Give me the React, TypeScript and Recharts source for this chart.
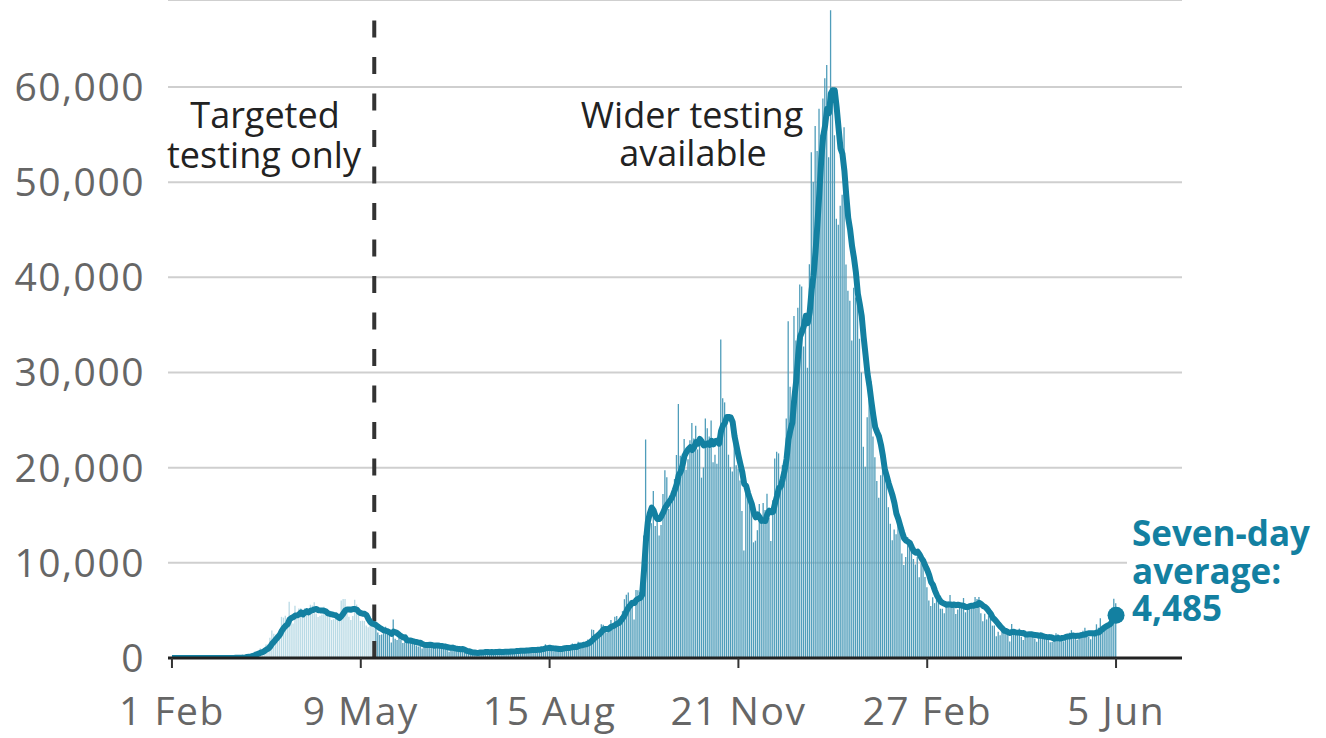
import { ComposedChart, Bar, Line, XAxis, YAxis, CartesianGrid, ReferenceLine, Cell } from 'recharts'

// Daily reported cases, 1 Feb 2020 - 5 Jun 2021
const feb20 = [0, 0, 0, 0, 0, 1, 0, 0, 0, 4, 1, 0, 1, 0, 0, 0, 0, 0, 0, 0, 0, 0, 0, 4, 0, 2, 5, 3, 3]
const mar20 = [12, 4, 11, 34, 29, 48, 45, 69, 43, 208, 342, 251, 152, 407, 676, 643, 714, 1035, 665, 967, 1427, 1452, 2129, 2885, 2546, 2433, 2619, 3009, 4324, 4244, 4450]
const apr20 = [3735, 5903, 3802, 3634, 5491, 4344, 5195, 5233, 4342, 5252, 4603, 4617, 5599, 5525, 5850, 4676, 4301, 4451, 4583, 5386, 4913, 4463, 4309, 3996, 4076, 4350, 4200, 3950, 6032, 6201]
const may20 = [6201, 4806, 4339, 3985, 4406, 6111, 5614, 4649, 3896, 3923, 3877, 3403, 3242, 3446, 3560, 3451, 3142, 2684, 2412, 2472, 2615, 3287, 2959, 2405, 1625, 4043, 2013, 1887, 2095, 1936, 1570]
const jun20 = [1653, 1871, 1871, 1805, 1650, 1557, 1326, 1205, 1741, 1003, 1266, 1541, 1425, 1514, 1056, 1279, 1115, 1218, 1346, 1295, 1221, 958, 874, 653, 1118, 1380, 890, 901, 815, 689]
const jul20 = [829, 576, 544, 624, 516, 352, 581, 630, 512, 820, 650, 650, 530, 598, 538, 642, 687, 827, 580, 725, 445, 560, 769, 768, 767, 747, 685, 581, 763, 846, 880]
const aug20 = [744, 743, 938, 670, 892, 950, 871, 758, 1062, 816, 1148, 1009, 1441, 1040, 1012, 726, 713, 1089, 812, 1182, 1033, 1288, 1041, 853, 1184, 1048, 1522, 1276, 1108, 1715, 1406]
const sep20 = [1295, 1508, 1735, 1940, 1813, 2988, 2948, 2460, 2659, 2919, 3539, 3497, 3330, 2621, 3105, 3991, 3395, 4322, 4422, 3899, 4368, 4926, 6178, 6634, 6874, 6042, 5693, 4044, 7143, 7108]
const oct20 = [6914, 6968, 12872, 22961, 12594, 14542, 14162, 17540, 13864, 15166, 12872, 13972, 17234, 19724, 18980, 15650, 16171, 16982, 18804, 21331, 26688, 21242, 20530, 23012, 19790, 20890, 22885, 24701, 23065, 24405, 21915]
const nov20 = [23254, 18950, 20018, 25177, 24141, 23287, 24957, 20572, 21350, 20412, 22950, 33470, 27301, 26860, 24962, 21363, 20051, 19609, 22915, 20252, 19875, 18662, 15450, 11299, 18213, 17555, 16022, 15871, 12155, 12330]
const dec20 = [13430, 16170, 14879, 16298, 15539, 17272, 14718, 12282, 16578, 20964, 21672, 21502, 18447, 20263, 18450, 25161, 35383, 28507, 27052, 35928, 33364, 36804, 39237, 39036, 32725, 34693, 30501, 41385, 53135, 50023, 55892]
const jan21 = [53285, 57725, 54990, 58784, 60916, 62322, 52618, 68053, 59937, 54940, 46169, 45533, 47525, 48682, 55761, 41346, 38598, 37535, 33355, 38905, 37892, 40261, 33552, 30004, 22195, 20089, 25308, 28680, 29079, 23275, 21088]
const feb21 = [18607, 16840, 19202, 20634, 19114, 18262, 15845, 14104, 12364, 13494, 13013, 15144, 13308, 10972, 9765, 10625, 12718, 12057, 12027, 10406, 9834, 10641, 8489, 9938, 9985, 8523, 7434, 6035]
const mar21 = [5455, 6391, 5766, 6573, 6040, 5177, 5177, 4712, 5766, 5926, 6609, 5534, 5672, 4618, 5089, 5294, 5758, 6303, 4802, 5587, 5312, 5342, 5379, 6397, 6187, 6397, 4715, 3862, 4654, 4052, 4479]
const apr21 = [4400, 3402, 3423, 2297, 2762, 2379, 3030, 2763, 3150, 2589, 1730, 3568, 2472, 2491, 2672, 3089, 2206, 1882, 2524, 2396, 2666, 2729, 2678, 2061, 1712, 2064, 2685, 2166, 2381, 2445]
const may21 = [1907, 1649, 1671, 1946, 2613, 2490, 2047, 2285, 1770, 2357, 2284, 2657, 2923, 2193, 2027, 1926, 2412, 2696, 2874, 3180, 2829, 2235, 1979, 2439, 2493, 3542, 3180, 4182, 3398, 3240, 3383]
const jun21 = [3165, 4330, 5274, 6238, 5765]

// Seven-day average
const feb20Avg = [0, 0, 0, 0, 0, 0, 0, 0, 0, 1, 1, 1, 1, 1, 1, 1, 1, 0, 0, 0, 0, 0, 0, 1, 1, 1, 2, 2, 2]
const mar20Avg = [4, 4, 6, 10, 14, 20, 26, 34, 40, 68, 112, 144, 159, 210, 297, 383, 455, 554, 613, 730, 875, 986, 1198, 1509, 1724, 1977, 2213, 2439, 2849, 3151, 3375]
const apr20Avg = [3545, 4041, 4210, 4299, 4466, 4480, 4586, 4800, 4577, 4784, 4923, 4798, 4977, 5024, 5113, 5160, 5024, 5003, 4998, 4967, 4880, 4682, 4629, 4586, 4532, 4499, 4330, 4192, 4416, 4686]
const may20Avg = [5001, 5106, 5104, 5073, 5139, 5150, 5066, 4844, 4714, 4655, 4639, 4496, 4086, 3777, 3621, 3557, 3446, 3275, 3134, 3024, 2905, 2866, 2796, 2691, 2539, 2772, 2707, 2603, 2432, 2286, 2167]
const jun20Avg = [2171, 1861, 1840, 1829, 1765, 1711, 1676, 1612, 1594, 1470, 1393, 1377, 1358, 1385, 1364, 1298, 1314, 1307, 1279, 1260, 1219, 1205, 1147, 1081, 1066, 1071, 1013, 968, 947, 921]
const jul20Avg = [946, 869, 749, 711, 656, 590, 575, 546, 537, 576, 580, 599, 625, 627, 614, 633, 614, 639, 629, 657, 635, 638, 656, 668, 659, 683, 677, 697, 726, 737, 753]
const aug20Avg = [749, 749, 785, 798, 816, 831, 830, 832, 877, 860, 928, 945, 1015, 1039, 1075, 1027, 1013, 1004, 976, 939, 938, 978, 1023, 1043, 1056, 1090, 1138, 1173, 1147, 1244, 1323]
const sep20Avg = [1339, 1404, 1435, 1530, 1630, 1812, 2032, 2199, 2363, 2532, 2761, 3001, 3050, 3004, 3096, 3286, 3354, 3466, 3598, 3679, 3929, 4189, 4501, 4964, 5329, 5560, 5816, 5770, 6087, 6220]
const oct20Avg = [6300, 6600, 9200, 12300, 14300, 15200, 15800, 15500, 14900, 14600, 14600, 14900, 15300, 15800, 16100, 16400, 16700, 17100, 17650, 18250, 19230, 19550, 20250, 21230, 21630, 21930, 22150, 21860, 22130, 22680, 22520]
const nov20Avg = [23016, 22739, 22330, 22398, 22551, 22392, 22826, 22443, 22786, 22842, 22524, 23857, 24430, 24702, 25329, 25331, 25280, 24802, 23294, 22287, 21290, 20390, 19545, 18295, 18095, 17329, 16725, 16153, 15224, 14778]
const dec20Avg = [15082, 14790, 14408, 14448, 14400, 15131, 15472, 15308, 15367, 16236, 17004, 17855, 18023, 18815, 19697, 20923, 22983, 23959, 24752, 27249, 29121, 31743, 33754, 34275, 34878, 35970, 35194, 36340, 38673, 40214, 42622]
const jan21Avg = [45559, 48849, 52348, 54833, 55945, 57702, 57234, 59344, 59660, 59653, 57851, 55653, 53539, 52977, 51221, 48565, 46231, 44997, 43257, 42026, 40485, 38270, 37157, 35929, 33738, 31843, 29900, 28584, 26987, 25519, 24245]
const feb21Avg = [23732, 23268, 22396, 21246, 19823, 19107, 18358, 17714, 17075, 16260, 15171, 14604, 13896, 13200, 12580, 12332, 12221, 12084, 11639, 11224, 11062, 11187, 10882, 10485, 10189, 9688, 9263, 8721]
const mar21Avg = [7980, 7680, 7084, 6597, 6242, 5920, 5797, 5691, 5602, 5624, 5630, 5557, 5628, 5548, 5602, 5535, 5511, 5467, 5362, 5350, 5449, 5485, 5498, 5589, 5572, 5800, 5676, 5468, 5370, 5181, 4907]
const apr21Avg = [4651, 4223, 4039, 3815, 3545, 3306, 3099, 2865, 2829, 2710, 2629, 2744, 2757, 2680, 2667, 2659, 2604, 2626, 2477, 2466, 2491, 2499, 2440, 2419, 2395, 2329, 2371, 2299, 2250, 2216]
const may21Avg = [2194, 2185, 2129, 2024, 2087, 2103, 2046, 2100, 2117, 2215, 2264, 2270, 2332, 2353, 2316, 2338, 2346, 2405, 2436, 2473, 2563, 2593, 2601, 2605, 2576, 2671, 2671, 2864, 3030, 3211, 3345]
const jun21Avg = [3441, 3554, 3853, 4147, 4485]

const tickDays = [0, 98, 196, 294, 392, 490]
const tickLabels = ['1 Feb', '9 May', '15 Aug', '21 Nov', '27 Feb', '5 Jun']
const yTicks = [0, 10000, 20000, 30000, 40000, 50000, 60000]
const widerTestingDay = 105

const daily = [...feb20, ...mar20, ...apr20, ...may20, ...jun20, ...jul20, ...aug20, ...sep20, ...oct20, ...nov20, ...dec20, ...jan21, ...feb21, ...mar21, ...apr21, ...may21, ...jun21]
const average = [...feb20Avg, ...mar20Avg, ...apr20Avg, ...may20Avg, ...jun20Avg, ...jul20Avg, ...aug20Avg, ...sep20Avg, ...oct20Avg, ...nov20Avg, ...dec20Avg, ...jan21Avg, ...feb21Avg, ...mar21Avg, ...apr21Avg, ...may21Avg, ...jun21Avg]

const data = daily.map((cases, day) => ({ day, cases, avg: average[day] }))

const TEAL = '#1380a1'
const FONT = "'Open Sans', sans-serif"

const EndDot = (props: any) => {
  const { cx, cy, index } = props
  if (index !== data.length - 1) return <g key={`d${index}`} />
  return <circle key={`d${index}`} cx={cx} cy={cy} r={8.5} fill={TEAL} />
}

export default function App() {
  return (
    <div style={{ position: 'absolute', left: 0, top: 0, width: 1326, height: 738, background: '#fff' }}>
      <ComposedChart
        width={1326}
        height={738}
        data={data}
        margin={{ top: 0, right: 144, bottom: 0, left: 0 }}
        barCategoryGap={0}
        barGap={0}
      >
        <CartesianGrid vertical={false} stroke="#cfcfcf" strokeWidth={2} />
        <XAxis
          dataKey="day"
          type="category"
          height={80}
          ticks={tickDays}
          interval={0}
          tickFormatter={(d) => tickLabels[tickDays.indexOf(d)]}
          padding={{ left: 3, right: 65 }}
          axisLine={{ stroke: '#222', strokeWidth: 3 }}
          tickLine={{ stroke: '#333', strokeWidth: 2 }}
          tickSize={10}
          tickMargin={29}
          tick={{ fill: '#666', fontSize: 39, fontFamily: FONT, letterSpacing: 1.5 }}
        />
        <YAxis
          domain={[0, 69142]}
          ticks={yTicks}
          allowDataOverflow
          width={168}
          axisLine={false}
          tickLine={false}
          tickSize={6}
          tickMargin={17}
          tickFormatter={(v) => v.toLocaleString('en-GB')}
          tick={{ fill: '#666', fontSize: 39, fontFamily: FONT, letterSpacing: 1.5 }}
        />
        <Bar dataKey="cases" barSize={1.3} isAnimationActive={false}>
          {data.map((d) => (
            <Cell key={d.day} fill={d.day <= widerTestingDay ? '#b9dae5' : '#4f9dba'} />
          ))}
        </Bar>
        <ReferenceLine
          segment={[{ x: widerTestingDay, y: 0 }, { x: widerTestingDay, y: 67500 }]}
          stroke="#333"
          strokeWidth={4}
          strokeDasharray="17 19.5"
        />
        <Line
          dataKey="avg"
          type="linear"
          stroke={TEAL}
          strokeWidth={6}
          strokeLinejoin="round"
          dot={EndDot}
          activeDot={false}
          isAnimationActive={false}
        />
      </ComposedChart>
      <svg width={1326} height={738} style={{ position: 'absolute', left: 0, top: 0, pointerEvents: 'none' }}>
        <g fontFamily={FONT} fontSize={36} fill="#222" textAnchor="middle">
          <text x={265} y={128}>Targeted</text>
          <text x={264} y={168}>testing only</text>
          <text x={692} y={128}>Wider testing</text>
          <text x={693} y={166}>available</text>
        </g>
        <rect x={1127} y={512} width={199} height={120} fill="#fff" />
        <g fontFamily={FONT} fontSize={35} fontWeight={700} fill={TEAL}>
          <text x={1132} y={546}>Seven-day</text>
          <text x={1132} y={584}>average:</text>
          <text x={1132} y={621}>4,485</text>
        </g>
      </svg>
    </div>
  )
}
